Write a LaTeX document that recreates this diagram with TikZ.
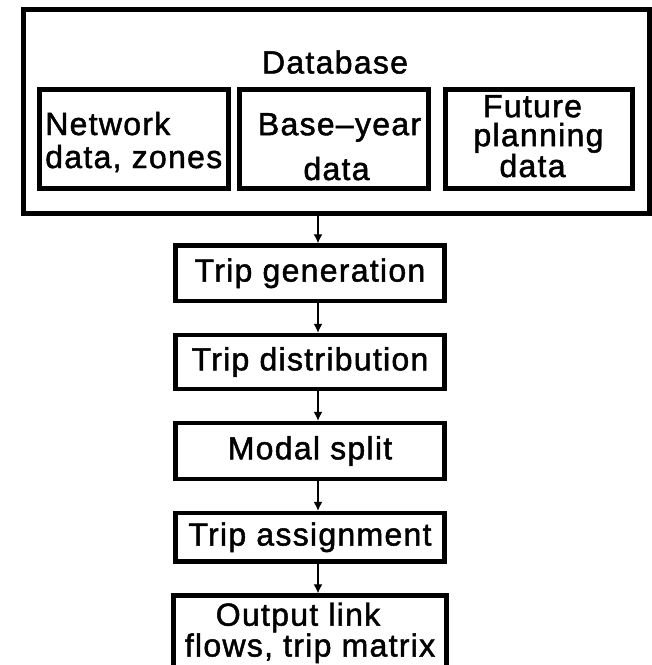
\documentclass[tikz,border=0pt]{standalone}
\usepackage{fontspec}
\setmainfont{Liberation Sans}[LetterSpace=4.0, FakeBold=1.5]
\usetikzlibrary{positioning, arrows.meta}
\tikzset{>={Latex[length=9pt, width=9pt]}, % small solid heads
node distance=29.5pt, % gap between the stages
stagebox/.style={draw, line width=4.5pt, minimum width=269pt, minimum height=55pt,
  inner sep=2pt, font=\fontsize{32}{29}\selectfont},
databox/.style={draw, line width=5pt, minimum height=98.5pt,
  inner sep=2pt, text depth=0pt, font=\fontsize{32}{29}\selectfont},
flow/.style={->, line width=1.2pt},
}

\begin{document}
\begin{tikzpicture}[x=1pt, y=-1pt]
  \useasboundingbox (0,0) rectangle (652,665);

  % database and its three parts
  \node[draw, line width=5pt, minimum width=626pt, minimum height=204pt] (db) at (336.5,111) {};
  \node[font=\fontsize{32}{29}\selectfont] (dbtitle) at (335,62) {Database};
  \node[databox, minimum width=188.5pt, text height=58.5pt, align=left] (net) at (133.75,138.75) {Network\\[4pt]data, zones};
  \node[databox, minimum width=189pt, text height=82.5pt, align=center] (base) at (333.5,138.75) {\hspace*{12pt}Base–year\\[14pt]\hspace*{6pt}data};
  \node[databox, minimum width=187pt, text height=76.5pt, align=center] (future) at (538.5,138.75) {Future\hspace*{12pt}\\planning\hspace*{12pt}\\data\hspace*{12pt}};

  % the four stages
  \node[stagebox, minimum height=55.5pt] (gen) at (310,273.25) {Trip generation};
  \node[stagebox, minimum height=54pt, below=of gen] (dist) {Trip distribution};
  \node[stagebox, minimum height=56pt, below=of dist] (modal) {Modal split};
  \node[stagebox, minimum height=48.5pt, below=of modal] (assign) {Trip assignment};
  \node[stagebox, minimum width=273pt, minimum height=10pt, inner ysep=7pt, align=center,
    below=of assign] (output) {Output link\hspace*{24pt}\\flows, trip matrix};

  \coordinate (axis) at (318,0);
  \draw[flow] (db.south -| axis) -- (gen.north -| axis);
  \draw[flow] (gen.south -| axis) -- (dist.north -| axis);
  \draw[flow] (dist.south -| axis) -- (modal.north -| axis);
  \draw[flow] (modal.south -| axis) -- (assign.north -| axis);
  \draw[flow] (assign.south -| axis) -- (output.north -| axis);
\end{tikzpicture}
\end{document}
